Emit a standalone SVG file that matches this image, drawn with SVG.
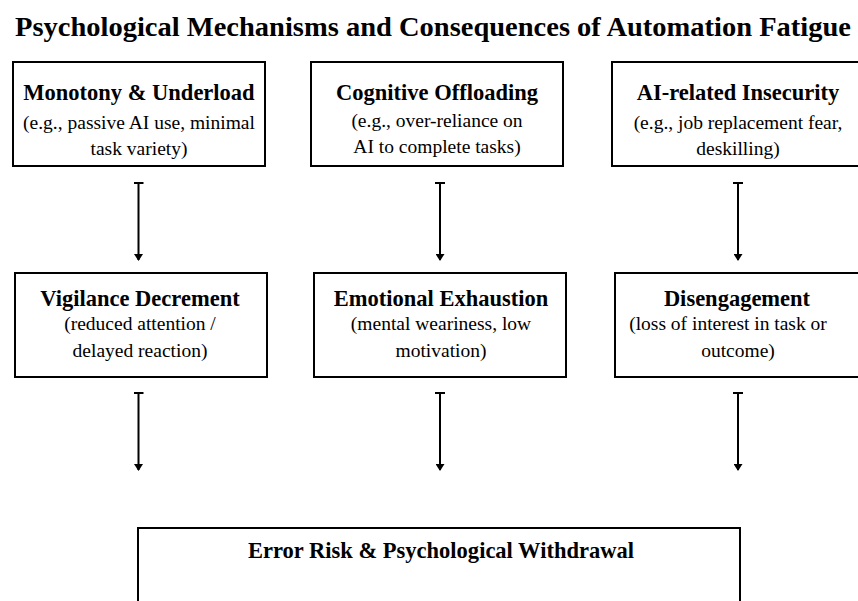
<svg xmlns="http://www.w3.org/2000/svg" width="858" height="601" viewBox="0 0 858 601">
<style>
.box{fill:#fff;stroke:#000;stroke-width:2}
.h{font-family:"Liberation Serif","Times New Roman",serif;font-weight:bold;font-size:22.5px;text-anchor:middle;fill:#000}
.s{font-family:"Liberation Serif","Times New Roman",serif;font-size:19.5px;text-anchor:middle;fill:#000}
.t{font-family:"Liberation Serif","Times New Roman",serif;font-weight:bold;font-size:28px;fill:#000}
.c{stroke:#000;stroke-width:2;fill:none;marker-start:url(#tee);marker-end:url(#arr)}
</style>
<defs>
<marker id="arr" viewBox="0 0 7 9" refX="6" refY="4.5" markerWidth="7" markerHeight="9" markerUnits="userSpaceOnUse" orient="auto">
<path d="M0,0 L7,4.5 L0,9 Z" fill="#000"/>
</marker>
<marker id="tee" viewBox="0 0 2 10" refX="1" refY="5" markerWidth="2" markerHeight="10" markerUnits="userSpaceOnUse" orient="auto">
<rect x="0" y="0" width="2" height="10" fill="#000"/>
</marker>
</defs>
<rect width="858" height="601" fill="#fff"/>
<text class="t" x="15" y="36" textLength="836" lengthAdjust="spacingAndGlyphs">Psychological Mechanisms and Consequences of Automation Fatigue</text>

<g id="monotony">
<rect class="box" x="13" y="62" width="252" height="104"/>
<text class="h" x="139" y="100">Monotony &amp; Underload</text>
<text class="s" x="139" y="129">(e.g., passive AI use, minimal</text>
<text class="s" x="139" y="155">task variety)</text>
</g>
<g id="offloading">
<rect class="box" x="311" y="62" width="252" height="104"/>
<text class="h" x="437" y="100">Cognitive Offloading</text>
<text class="s" x="437" y="127">(e.g., over-reliance on</text>
<text class="s" x="437" y="153">AI to complete tasks)</text>
</g>
<g id="insecurity">
<rect class="box" x="612" y="62" width="252" height="104"/>
<text class="h" x="738" y="100">AI-related Insecurity</text>
<text class="s" x="738" y="129">(e.g., job replacement fear,</text>
<text class="s" x="738" y="155">deskilling)</text>
</g>

<g id="vigilance">
<rect class="box" x="15" y="273" width="252" height="104"/>
<text class="h" x="140" y="306">Vigilance Decrement</text>
<text class="s" x="140" y="330">(reduced attention /</text>
<text class="s" x="140" y="357">delayed reaction)</text>
</g>
<g id="exhaustion">
<rect class="box" x="314" y="273" width="252" height="104"/>
<text class="h" x="441" y="306">Emotional Exhaustion</text>
<text class="s" x="441" y="330">(mental weariness, low</text>
<text class="s" x="441" y="357">motivation)</text>
</g>
<g id="disengagement">
<rect class="box" x="615" y="273" width="252" height="104"/>
<text class="h" x="737" y="306">Disengagement</text>
<text class="s" x="728" y="330">(loss of interest in task or</text>
<text class="s" x="738" y="357">outcome)</text>
</g>

<g id="outcome">
<rect class="box" x="138" y="528" width="602" height="90"/>
<text class="h" x="441" y="558" font-size="22px" textLength="386" lengthAdjust="spacingAndGlyphs">Error Risk &amp; Psychological Withdrawal</text>
</g>

<g id="connectors">
<path class="c" d="M138.5,183 V260"/>
<path class="c" d="M440,183 V260"/>
<path class="c" d="M738,183 V260"/>
<path class="c" d="M138.5,393 V470"/>
<path class="c" d="M440,393 V470"/>
<path class="c" d="M738,393 V470"/>
</g>
</svg>
